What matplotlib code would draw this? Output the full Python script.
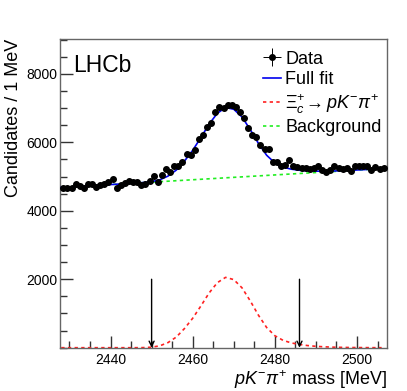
import numpy as np
import matplotlib
matplotlib.use("Agg")
import matplotlib.pyplot as plt
from matplotlib.ticker import MultipleLocator, FixedLocator

plt.rcParams['font.family'] = ['Liberation Sans', 'DejaVu Sans']
plt.rcParams['mathtext.fontset'] = 'custom'
plt.rcParams['mathtext.rm'] = 'Liberation Sans'
plt.rcParams['mathtext.it'] = 'Liberation Sans:italic'
plt.rcParams['mathtext.bf'] = 'Liberation Sans:bold'

# --------------------
# Data
# --------------------
mass_bins = np.arange(2428.5, 2507.0, 1.0)
counts = [
    4654, 4654, 4654, 4771, 4732, 4654, 4790, 4771, 4693, 4751,
    4790, 4829, 4917, 4673, 4751, 4810, 4868, 4829, 4829, 4751,
    4790, 4868, 5004, 4829, 5043, 5218, 5120, 5296, 5296, 5431,
    5646, 5626, 5772, 6093, 6210, 6435, 6552, 6873, 7028, 7000,
    7086, 7086, 7037, 6892, 6716, 6424, 6210, 6161, 5918, 5801,
    5801, 5431, 5412, 5314, 5333, 5480, 5314, 5285, 5237, 5237,
    5218, 5257, 5314, 5188, 5139, 5188, 5304, 5257, 5218, 5237,
    5160, 5314, 5314, 5314, 5314, 5188, 5285, 5218, 5257,
]

curve_mass = np.arange(2428, 2508, 2)
signal_curve = [
    0, 0, 0, 0, 0, 0, 0, 0, 0, 0,
    3, 15, 55, 150, 310, 560, 860, 1220, 1600, 1900,
    2055, 1990, 1750, 1370, 950, 590, 350, 215, 140, 95,
    62, 40, 26, 16, 10, 6, 4, 2, 1, 0,
]
bkg_ends_mass = [2427.7, 2507.3]
bkg_ends_val = [4680, 5240]

arrow_positions = [2450, 2486]
arrow_top = 2000

x_range = (2427.7, 2507.3)
y_range = (0, 9020)

# --------------------
# Derived curves
# --------------------
counts = np.array(counts, dtype=float)
signal_curve = np.array(signal_curve, dtype=float)
bkg_curve = np.interp(curve_mass, bkg_ends_mass, bkg_ends_val)
full_fit = bkg_curve + signal_curve

# --------------------
# Plot
# --------------------
fig = plt.figure(figsize=(4.07, 3.91), dpi=100)
ax = fig.add_axes([60 / 407, 1 - 347.7 / 391, 327 / 407, (347.7 - 39) / 391])

ax.plot(bkg_ends_mass, bkg_ends_val, color='#22ee22', lw=1.2,
        ls=(0, (2, 2)), label='Background', zorder=2)
ax.plot(curve_mass, signal_curve, color='#ff2020', lw=1.2,
        ls=(0, (2, 2)), label=r'$\mathit{Ξ}_c^{+}\!\rightarrow pK^{-}\pi^{+}$', zorder=2)
ax.plot(curve_mass, full_fit, color='#0000ee', lw=1.2, label='Full fit', zorder=3)
ax.errorbar(mass_bins, counts, yerr=np.sqrt(counts), xerr=0.5, fmt='o',
            color='black', ms=4.0, lw=0.7, capsize=0, label='Data', zorder=4)

for xa in arrow_positions:
    ax.annotate('', xy=(xa, 0), xytext=(xa, arrow_top),
                arrowprops=dict(arrowstyle='->', color='black', lw=1.0,
                                shrinkA=0, shrinkB=0, mutation_scale=9))

ax.set_xlim(*x_range)
ax.set_ylim(*y_range)

ax.xaxis.set_major_locator(FixedLocator([2440, 2460, 2480, 2500]))
ax.xaxis.set_minor_locator(MultipleLocator(5))
ax.yaxis.set_major_locator(FixedLocator([2000, 4000, 6000, 8000]))
ax.yaxis.set_minor_locator(MultipleLocator(500))

ax.tick_params(which='both', direction='in', top=False, right=False,
               colors='#333333', labelcolor='black', labelsize=10)
ax.tick_params(which='major', length=9, width=1)
ax.tick_params(which='minor', length=5, width=1)
ax.tick_params(axis='y', pad=2)
ax.tick_params(axis='x', pad=4)
for sp in ax.spines.values():
    sp.set_color('#666666')
    sp.set_linewidth(1.0)

ax.set_xlabel(r'$pK^{-}\pi^{+}$ mass [MeV]', fontsize=13, loc='right', labelpad=1)
ax.set_ylabel('Candidates / 1 MeV', fontsize=13, loc='top', labelpad=3)

ax.text(0.04, 0.95, 'LHCb', transform=ax.transAxes, fontsize=16.5,
        ha='left', va='top')

handles, labels = ax.get_legend_handles_labels()
order = [3, 2, 1, 0]
ax.legend([handles[i] for i in order], [labels[i] for i in order],
          loc='upper right', bbox_to_anchor=(1.0, 0.98), frameon=False,
          fontsize=13, handlelength=1.0, handletextpad=0.25,
          labelspacing=0.2, borderaxespad=0.0, borderpad=0.3)

fig.savefig('out.png', dpi=100)
